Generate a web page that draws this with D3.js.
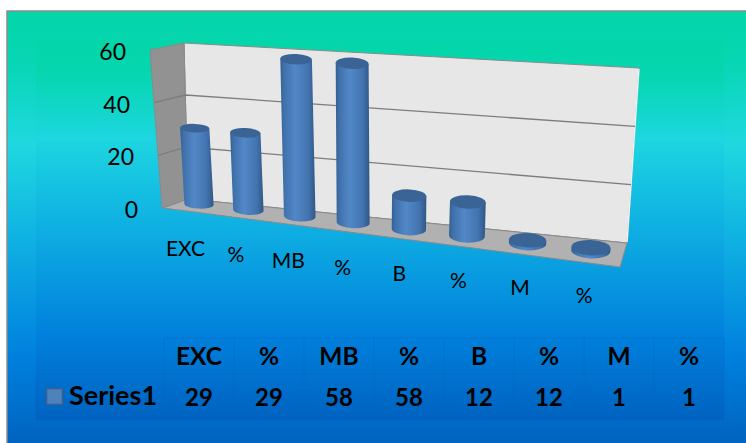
<!DOCTYPE html>
<html>
<head>
<meta charset="utf-8">
<script src="https://cdn.jsdelivr.net/npm/d3@7"></script>
<style>
  html, body { margin: 0; padding: 0; background: #fff; }
  svg { display: block; font-family: Lato, sans-serif; }
</style>
</head>
<body>
<div id="chart"></div>
<script>
const categories = ["EXC", "%", "MB", "%", "B", "%", "M", "%"];
const seriesName = "Series1";
const seriesValues = [29, 29, 58, 58, 12, 12, 1, 1];
const valueTicks = [0, 20, 40, 60];

const width = 746;
const height = 443;

const svg = d3.select("#chart")
    .append("svg")
    .attr("width", width)
    .attr("height", height);

// four sided plane, k squeezes the far end so the categories get the perspective
function plane(tl, tr, br, bl, k) {
    return (u, v) => {
        const t = u / (u + k * (1 - u));
        const top = [tl[0] + (tr[0] - tl[0]) * t, tl[1] + (tr[1] - tl[1]) * t];
        const bot = [bl[0] + (br[0] - bl[0]) * t, bl[1] + (br[1] - bl[1]) * t];
        return [top[0] + (bot[0] - top[0]) * v, top[1] + (bot[1] - top[1]) * v];
    };
}

const backWall = plane([184, 43], [639, 68], [627, 243], [188, 199], 1.18);
const leftWall = plane([150, 50], [184, 43], [188, 199], [162, 208], 1);
const floor = plane([188, 199], [627, 243], [620, 267], [163, 208], 1.18);
const barPlane = plane([165, 45], [636, 77], [623.5, 254.5], [175, 201.5], 1.18);

const x = d3.scaleBand()
    .domain(d3.range(categories.length))
    .range([0, 1])
    .paddingInner(0.4)
    .paddingOuter(0.2);

const y = d3.scaleLinear().domain([0, 60]).range([1, 0]);

const capRy = d3.scaleLinear().domain([0, 1]).range([4, 8]);
const labelShift = d3.scaleLinear().domain([0, 1]).range([-14, -6]);
const capTilt = 2.5;

const defs = svg.append("defs");

function gradient(id, stops, horizontal) {
    const g = defs.append("linearGradient").attr("id", id)
        .attr("x1", 0).attr("y1", 0)
        .attr("x2", horizontal ? 1 : 0).attr("y2", horizontal ? 0 : 1);
    stops.forEach(s => g.append("stop").attr("offset", s[0]).attr("stop-color", s[1]));
}

const bgStops = [
    [0, "#03d6a8"], [0.12, "#08d6b4"], [0.3, "#1fd8e0"],
    [0.52, "#0fb0e2"], [0.78, "#0080de"], [1, "#0060bc"]
];
gradient("bg", bgStops);
gradient("bgInner", [
    [0, "#03d6a8"], [0.1, "#07d6b2"], [0.26, "#1dd6e0"],
    [0.5, "#0eaee2"], [0.78, "#0080dc"], [1, "#0062c0"]
]);
gradient("barBody", [
    [0, "#36608f"], [0.1, "#3f70aa"], [0.42, "#5288c8"],
    [0.8, "#4273ae"], [1, "#2f5785"]
], true);

// background
svg.append("rect").attr("width", width).attr("height", height).attr("fill", "#fff");
svg.append("rect")
    .attr("x", 7).attr("y", 11).attr("width", width).attr("height", height)
    .attr("fill", "url(#bg)")
    .attr("stroke", "#8c8c8c")
    .attr("stroke-width", 1.5);
svg.append("rect")
    .attr("x", 36).attr("y", 40).attr("width", 688).attr("height", 380)
    .attr("fill", "url(#bgInner)");

const line = d3.line();
function poly(points, fill) {
    svg.append("path")
        .attr("d", line(points) + "Z")
        .attr("fill", fill)
        .attr("stroke", "#8a8a8a")
        .attr("stroke-width", 1);
}

// walls and floor
poly([[0, 0], [1, 0], [1, 1], [0, 1]].map(p => backWall(p[0], p[1])), "#e7e7e7");
poly([[0, 0], [1, 0], [1, 1], [0, 1]].map(p => leftWall(p[0], p[1])), "#929292");
poly([[0, 0], [1, 0], [1, 1], [0, 1]].map(p => floor(p[0], p[1])), "#b1b1b1");

// white edge on the right side of the wall, the grey stroke is only on top
svg.append("path")
    .attr("d", line([backWall(1, 0.005), backWall(1, 0.995)]))
    .attr("stroke", "#f1f1f1")
    .attr("stroke-width", 1.5);

// gridlines
valueTicks.filter(d => d > 0 && d < 60).forEach(d => {
    svg.append("path")
        .attr("d", line([leftWall(0, y(d)), leftWall(1, y(d)), backWall(1, y(d))]))
        .attr("fill", "none")
        .attr("stroke", "#7d7d7d")
        .attr("stroke-width", 1.3);
});

// value labels
svg.selectAll(".value-label")
    .data(valueTicks)
    .enter().append("text")
    .attr("class", "value-label")
    .attr("x", d => leftWall(0, y(d))[0] - 24)
    .attr("y", d => leftWall(0, y(d))[1] + 10)
    .attr("text-anchor", "end")
    .attr("font-size", 23)
    .text(d => d);

// bars
const bars = svg.selectAll(".bar")
    .data(seriesValues)
    .enter().append("g")
    .attr("class", "bar");

function barShape(v, i) {
    const u0 = x(i), u1 = x(i) + x.bandwidth(), um = (u0 + u1) / 2;
    const a = barPlane(u0, y(0)), b = barPlane(u1, y(0));
    const rx = Math.hypot(b[0] - a[0], b[1] - a[1]) / 2;
    const ry = capRy(um);
    const cb = barPlane(um, y(0)), ct = barPlane(um, y(v));
    const dx = rx * Math.cos(capTilt * Math.PI / 180), dy = rx * Math.sin(capTilt * Math.PI / 180);
    return {
        lb: [cb[0] - dx, cb[1] - dy], rb: [cb[0] + dx, cb[1] + dy],
        lt: [ct[0] - dx, ct[1] - dy], rt: [ct[0] + dx, ct[1] + dy],
        ct, rx, ry
    };
}

bars.append("path")
    .attr("d", (v, i) => {
        const s = barShape(v, i);
        return `M${s.lb}L${s.lt}L${s.rt}L${s.rb}A${s.rx},${s.ry} ${capTilt} 0 1 ${s.lb}Z`;
    })
    .attr("fill", "url(#barBody)");

bars.append("ellipse")
    .attr("transform", (v, i) => {
        const s = barShape(v, i);
        return `translate(${s.ct[0]},${s.ct[1]}) rotate(${capTilt})`;
    })
    .attr("rx", (v, i) => barShape(v, i).rx)
    .attr("ry", (v, i) => barShape(v, i).ry)
    .attr("fill", "#3a6496");

// category labels hang below the foot of each bar
function labelPos(i) {
    const u = x(i) + x.bandwidth() / 2;
    const p = barPlane(u, y(0));
    return [p[0] + labelShift(u), p[1] + 52];
}

svg.selectAll(".category-label")
    .data(categories)
    .enter().append("text")
    .attr("class", "category-label")
    .attr("x", (d, i) => labelPos(i)[0])
    .attr("y", (d, i) => labelPos(i)[1])
    .attr("text-anchor", "middle")
    .attr("font-size", 21)
    .text(d => d);

// data table
const col = d3.scaleBand().domain(d3.range(categories.length)).range([164, 724]);
const tableTop = 338, rowLine = 374, tableBottom = 420, tableLeft = 36;
const gridColor = "#0a62bb";

const tableLines = [
    [[col(0), tableTop], [724, tableTop]],
    [[tableLeft, rowLine], [724, rowLine]],
    [[tableLeft, tableBottom], [724, tableBottom]],
    [[tableLeft, rowLine], [tableLeft, tableBottom]]
];
d3.range(categories.length + 1).forEach(i => {
    tableLines.push([[164 + i * col.step(), tableTop], [164 + i * col.step(), tableBottom]]);
});
svg.selectAll(".table-line")
    .data(tableLines)
    .enter().append("path")
    .attr("class", "table-line")
    .attr("d", d => line(d))
    .attr("stroke", gridColor)
    .attr("stroke-opacity", 0.35)
    .attr("stroke-width", 1);

svg.selectAll(".table-head")
    .data(categories)
    .enter().append("text")
    .attr("class", "table-head")
    .attr("x", (d, i) => col(i) + col.bandwidth() / 2)
    .attr("y", 365)
    .attr("text-anchor", "middle")
    .attr("font-size", 24.5)
    .attr("font-weight", "bold")
    .text(d => d);

svg.selectAll(".table-value")
    .data(seriesValues)
    .enter().append("text")
    .attr("class", "table-value")
    .attr("x", (d, i) => col(i) + col.bandwidth() / 2)
    .attr("y", 405.5)
    .attr("text-anchor", "middle")
    .attr("font-size", 24)
    .attr("font-weight", "bold")
    .text(d => d);

svg.append("rect")
    .attr("x", 46.5).attr("y", 388.5).attr("width", 16).attr("height", 16)
    .attr("fill", "#4f81bd")
    .attr("stroke", "#3a5f8e")
    .attr("stroke-width", 1.5);

svg.append("text")
    .attr("x", 69).attr("y", 405)
    .attr("font-size", 27)
    .attr("font-weight", "bold")
    .text(seriesName);
</script>
</body>
</html>
